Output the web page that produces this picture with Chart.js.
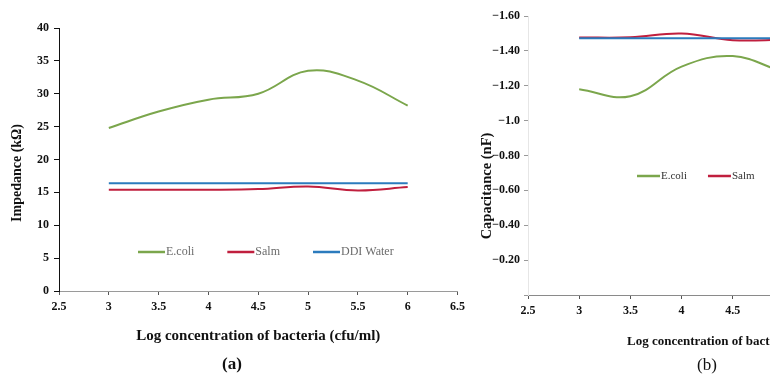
<!DOCTYPE html>
<html>
<head>
<meta charset="utf-8">
<script src="https://cdn.jsdelivr.net/npm/chart.js@4.4.1/dist/chart.umd.min.js"></script>
<style>
  html, body { margin: 0; padding: 0; background: #fff; }
  #wrap { position: relative; width: 770px; height: 375px; overflow: hidden; }
  canvas { position: absolute; top: 0; }
  #impChart { left: 0; }
  #capChart { left: 460px; }
  .tag { position: absolute; font-family: "Liberation Serif", serif; font-size: 17px; color: #111; }
</style>
</head>
<body>
<div id="wrap">
  <canvas id="impChart" width="470" height="375"></canvas>
  <canvas id="capChart" width="490" height="375"></canvas>
  <div class="tag" style="left:222px; top:354px; font-weight:bold;">(a)</div>
  <div class="tag" style="left:697px; top:355px;">(b)</div>
</div>
<script>
// log concentration of bacteria (cfu/ml)
const logConc = [3, 3.5, 4, 4.5, 5, 5.5, 6];

// (a) impedance, kOhm
const ecoliImp = [24.8, 27.3, 29.1, 30.0, 33.5, 32.0, 28.2];
const salmImp  = [15.4, 15.4, 15.4, 15.5, 15.9, 15.3, 15.8];
const waterImp = [16.4, 16.4, 16.4, 16.4, 16.4, 16.4, 16.4];

// (b) capacitance, nF (axis printed with a minus sign)
const ecoliCap = [1.18, 1.14, 1.31, 1.37, 1.28, 1.22, 1.20];
const salmCap  = [1.477, 1.478, 1.50, 1.461, 1.465, 1.47, 1.47];
const waterCap = [1.473, 1.473, 1.473, 1.473, 1.473, 1.473, 1.473];
const capTickLabels = ["", "−0.20", "−0.40", "−0.60", "−0.80", "−1.0", "−1.20", "−1.40", "−1.60"];

const seriesNames = ["E.coli", "Salm", "DDI Water"];
const colors = ["#7ba64c", "#c01f3e", "#2b7bbd"];

const serif = "'Liberation Serif', 'Times New Roman', serif";

function pts(vals) {
    return logConc.map((x, i) => ({ x: x, y: vals[i] }));
}

function makeDatasets(vals) {
    return vals.map((v, i) => ({
        label: seriesNames[i],
        data: pts(v),
        borderColor: colors[i],
        backgroundColor: colors[i],
        borderWidth: 2,
        pointRadius: 0,
        tension: 0.4,
        order: 3 - i
    }));
}

// legend drawn inside the plot, like the excel one
const insideLegend = {
    id: "insideLegend",
    afterDraw(chart, args, opts) {
        const ctx = chart.ctx;
        ctx.save();
        ctx.font = opts.font;
        ctx.textBaseline = "middle";
        let x = opts.x;
        chart.data.datasets.forEach(ds => {
            ctx.strokeStyle = ds.borderColor;
            ctx.lineWidth = 2.5;
            ctx.beginPath();
            ctx.moveTo(x, opts.y);
            ctx.lineTo(x + opts.lineLen, opts.y);
            ctx.stroke();
            x += opts.lineLen + 1;
            ctx.fillStyle = opts.color;
            ctx.fillText(ds.label, x, opts.y);
            x += ctx.measureText(ds.label).width + opts.gap;
        });
        ctx.restore();
    }
};

// vertical axis title, sits a bit lower than chart.js would centre it
const sideTitle = {
    id: "sideTitle",
    afterDraw(chart, args, opts) {
        const ctx = chart.ctx;
        ctx.save();
        ctx.translate(opts.x, opts.y);
        ctx.rotate(-Math.PI / 2);
        ctx.font = opts.font;
        ctx.fillStyle = "#111";
        ctx.textAlign = "center";
        ctx.textBaseline = "middle";
        ctx.fillText(opts.text, 0, 0);
        ctx.restore();
    }
};

const tickFont = { family: serif, size: 12, weight: "bold" };

new Chart(document.getElementById("impChart"), {
    type: "line",
    data: { datasets: makeDatasets([ecoliImp, salmImp, waterImp]) },
    plugins: [insideLegend, sideTitle],
    options: {
        responsive: false,
        animation: false,
        layout: { padding: { left: 5, right: 10, top: 28, bottom: 26 } },
        plugins: {
            legend: { display: false },
            tooltip: { enabled: false },
            insideLegend: { x: 138, y: 252, lineLen: 27, gap: 33, color: "#6b6b6b", font: "12px " + serif },
            sideTitle: { text: "Impedance (kΩ)", x: 17, y: 173, font: "bold 14px " + serif }
        },
        scales: {
            x: {
                type: "linear",
                min: 2.5, max: 6.5,
                afterFit: s => { s.height = 58; },
                ticks: { stepSize: 0.5, color: "#111", font: tickFont, padding: 5, callback: v => String(v) },
                grid: { drawOnChartArea: false, tickLength: 4, color: "#555" },
                border: { color: "#9a9a9a" },
                title: { display: true, text: "Log concentration of bacteria (cfu/ml)", color: "#111", font: { family: serif, size: 15, weight: "bold" } }
            },
            y: {
                min: 0, max: 40,
                afterFit: s => { s.width = 54; },
                ticks: { stepSize: 5, color: "#111", font: tickFont, padding: 5 },
                grid: { drawOnChartArea: false, tickLength: 5, color: "#111" },
                border: { color: "#111" }
            }
        }
    }
});

new Chart(document.getElementById("capChart"), {
    type: "line",
    data: { datasets: makeDatasets([ecoliCap, salmCap, waterCap]) },
    plugins: [insideLegend, sideTitle],
    options: {
        responsive: false,
        animation: false,
        layout: { padding: { left: 15, right: 12, top: 16, bottom: 22 } },
        plugins: {
            legend: { display: false },
            tooltip: { enabled: false },
            insideLegend: { x: 177, y: 176, lineLen: 23, gap: 21, color: "#333", font: "11px " + serif },
            sideTitle: { text: "Capacitance (nF)", x: 27, y: 186, font: "bold 14.5px " + serif }
        },
        scales: {
            x: {
                type: "linear",
                min: 2.5, max: 6.5,
                afterFit: s => { s.height = 58; },
                ticks: { stepSize: 0.5, color: "#111", font: tickFont, padding: 5, callback: v => String(v) },
                grid: { drawOnChartArea: false, tickLength: 4, color: "#555" },
                border: { color: "#8a8a8a" },
                title: { display: true, text: "Log concentration of bacteria (cfu/ml)", color: "#111", font: { family: serif, size: 13, weight: "bold" } }
            },
            y: {
                min: 0, max: 1.6,
                afterFit: s => { s.width = 53; },
                ticks: {
                    stepSize: 0.2, color: "#111", font: tickFont, padding: 4,
                    callback: v => capTickLabels[Math.round(v / 0.2)]
                },
                grid: { drawOnChartArea: false, tickLength: 4, color: "#999" },
                border: { color: "#e6e6e6" }
            }
        }
    }
});
</script>
</body>
</html>
